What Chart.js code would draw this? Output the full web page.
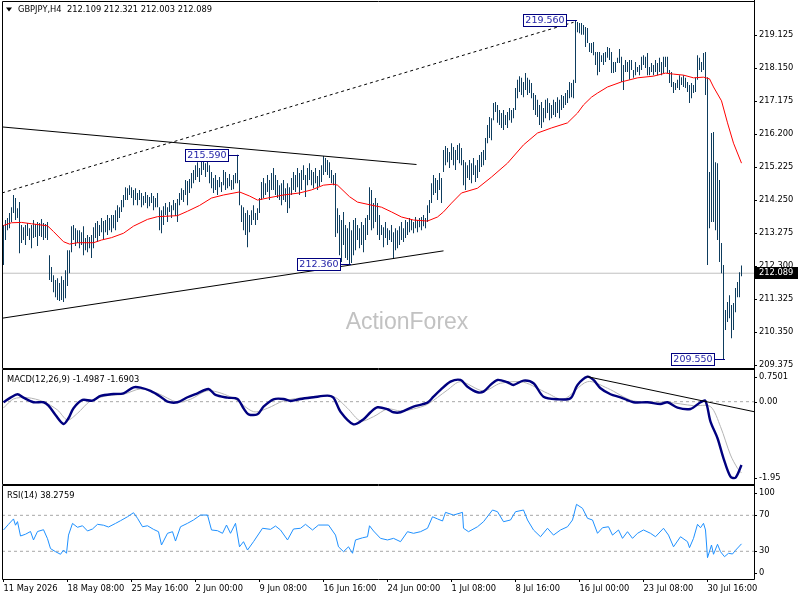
<!DOCTYPE html>
<html><head><meta charset="utf-8">
<script src="https://cdn.jsdelivr.net/npm/chart.js@4.4.1/dist/chart.umd.min.js"></script>
<style>
html,body{margin:0;padding:0;background:#fff;}
body{width:800px;height:600px;position:relative;overflow:hidden;}
canvas{position:absolute;left:0;}
</style></head><body>
<canvas id="cMain" width="800" height="370" style="top:0px"></canvas>
<canvas id="cMacd" width="800" height="118" style="top:368px"></canvas>
<canvas id="cRsi" width="800" height="116" style="top:484px"></canvas>
<script>
const symbolTitle = 'GBPJPY,H4';
const lastOHLC = [212.109, 212.321, 212.003, 212.089];

const highs = [
213.51,213.66,213.72,213.87,214.04,214.40,214.31,214.01,214.19,213.51,
213.45,213.51,213.57,213.42,213.51,213.66,213.54,213.60,213.57,213.69,
213.57,213.54,213.60,212.62,212.27,212.03,211.89,211.94,211.80,212.00,
211.89,212.18,212.77,212.77,213.48,213.51,213.42,213.36,213.36,213.30,
213.48,213.13,213.22,213.16,213.22,213.45,213.57,213.63,213.51,213.72,
213.63,213.66,213.81,213.72,213.81,213.81,213.95,214.10,214.04,214.25,
214.40,214.63,214.60,214.69,214.63,214.55,214.60,214.46,214.55,214.46,
214.37,214.49,214.40,214.34,214.46,214.37,214.31,214.46,214.04,213.95,
214.07,214.16,214.04,214.19,214.10,214.25,214.16,214.28,214.46,214.60,
214.55,214.84,214.81,214.87,215.05,215.14,215.28,215.37,215.20,215.43,
215.58,215.34,215.43,215.28,215.08,214.90,214.99,214.84,214.93,214.78,
215.14,215.08,214.90,215.02,214.84,214.99,215.05,215.59,214.84,214.10,
214.04,213.87,213.95,213.81,213.95,214.10,213.87,214.01,214.31,214.78,
214.90,214.75,214.99,214.84,215.05,215.20,214.99,214.84,214.69,214.75,
214.84,214.60,214.75,214.63,214.90,215.08,214.99,215.20,215.05,215.14,
215.28,214.99,215.20,215.34,215.14,215.08,215.20,214.96,215.14,215.28,
215.55,215.49,215.43,215.37,215.14,214.99,215.05,214.01,213.81,213.66,
213.90,213.51,213.42,213.60,213.36,213.66,213.72,213.51,213.42,213.60,
213.51,213.72,213.81,214.63,214.55,214.16,214.31,214.16,213.81,213.51,
213.45,213.60,213.42,213.36,213.51,213.30,213.42,213.36,213.48,213.60,
213.42,213.66,213.60,213.72,213.69,213.60,213.75,213.66,213.72,213.75,
213.81,213.72,214.10,214.25,214.75,214.99,214.90,214.84,215.05,214.90,
215.73,215.85,215.79,215.67,215.93,215.82,215.73,215.88,215.93,215.79,
215.43,215.37,215.28,215.43,215.34,215.49,215.28,215.43,215.58,215.67,
215.73,216.08,216.47,216.70,216.67,217.12,217.15,217.06,216.91,216.82,
216.91,216.76,216.85,216.97,216.91,216.97,217.56,217.80,217.91,217.86,
217.74,218.00,217.86,217.80,217.71,217.41,217.35,217.21,217.06,217.15,
216.97,217.21,217.26,217.12,217.06,217.21,217.15,217.29,217.21,217.35,
217.32,217.41,217.50,217.74,217.71,217.80,219.56,219.51,219.48,219.48,
219.42,219.36,219.33,218.89,218.89,218.92,218.62,218.62,218.62,218.53,
218.59,218.62,218.77,218.74,218.62,218.33,218.33,218.45,218.71,218.48,
218.24,218.39,218.33,218.39,218.39,218.09,218.33,218.18,218.24,218.48,
218.53,218.48,218.59,218.18,218.30,218.24,218.39,218.30,218.45,218.33,
218.48,218.48,218.48,218.09,218.03,217.74,217.71,217.80,217.94,217.88,
217.94,217.86,217.74,217.65,217.71,217.65,217.86,218.53,218.45,218.33,
218.59,218.62,217.88,215.08,216.23,216.26,215.37,215.34,214.84,212.98,
212.33,211.00,211.24,211.44,211.15,211.21,211.65,211.83,212.12,212.321];

const lows = [
212.33,213.07,213.36,213.42,213.60,213.87,213.66,213.72,212.68,212.98,
213.07,212.92,213.19,213.07,212.83,213.13,213.16,212.89,213.19,213.16,
213.07,213.13,213.07,211.89,211.83,211.53,211.38,211.30,211.27,211.30,
211.24,211.35,211.71,212.09,212.71,213.07,212.89,212.98,212.83,212.92,
212.62,212.77,212.71,212.83,212.54,212.83,213.13,213.01,213.19,213.30,
213.07,213.30,213.22,213.36,213.30,213.42,213.36,213.60,213.72,213.90,
214.04,214.25,214.25,214.40,214.31,214.10,214.25,214.10,214.25,214.04,
214.10,214.16,214.01,214.07,214.16,213.95,214.04,214.04,213.36,213.27,
213.51,213.81,213.60,213.90,213.72,213.95,213.78,213.60,214.10,214.25,
214.19,214.40,214.10,214.46,214.60,214.75,214.84,214.93,214.78,214.99,
215.14,214.93,215.08,214.75,214.60,214.46,214.55,214.40,214.63,214.49,
214.69,214.55,214.60,214.66,214.55,214.57,214.75,214.75,214.10,213.60,
213.36,213.22,212.86,213.30,213.51,213.66,213.51,213.66,213.87,214.25,
214.31,214.40,214.49,214.25,214.55,214.55,214.40,214.31,214.25,214.10,
214.25,214.19,213.87,214.01,214.40,214.55,214.49,214.63,214.40,214.55,
214.84,214.34,214.69,214.84,214.69,214.60,214.75,214.55,214.66,214.78,
214.99,215.08,214.99,214.90,214.75,214.69,213.16,213.27,212.62,212.42,
212.92,212.54,212.48,212.36,212.39,212.62,212.77,213.07,212.83,212.92,
212.71,213.07,213.22,213.66,213.36,213.42,213.60,213.22,213.07,213.22,
212.86,213.13,212.92,213.07,213.01,212.51,212.77,212.83,212.92,213.07,
213.01,213.13,213.22,213.30,213.36,213.27,213.42,213.30,213.45,213.36,
213.48,213.42,213.60,213.87,214.16,214.40,214.46,214.25,214.55,214.16,
215.08,215.28,215.37,215.20,215.43,215.28,215.14,215.43,215.34,215.28,
214.69,214.55,214.90,214.84,214.75,214.99,214.78,214.90,215.08,215.23,
215.28,215.43,215.93,216.08,216.02,216.61,216.85,216.53,216.47,216.38,
216.32,216.47,216.38,216.61,216.53,216.67,216.91,217.26,217.44,217.35,
217.29,217.50,217.35,217.41,217.26,216.91,216.76,216.70,216.47,216.38,
216.55,216.67,216.82,216.61,216.67,216.76,216.70,216.82,216.67,216.91,
216.97,217.06,217.12,217.26,217.29,217.26,217.71,219.21,219.18,219.13,
219.13,218.77,218.89,218.62,218.59,218.53,218.24,217.94,218.03,218.33,
218.24,218.33,218.45,218.39,218.00,218.00,218.03,218.30,218.30,217.74,
217.50,218.03,218.03,217.80,218.09,217.86,217.94,218.03,217.94,218.09,
218.24,218.15,217.94,217.94,218.03,217.94,218.03,217.94,218.03,217.94,
218.00,218.18,218.00,217.71,217.59,217.41,217.50,217.56,217.50,217.65,
217.59,217.56,217.44,217.12,217.26,217.41,217.44,217.80,218.09,218.03,
218.09,217.35,212.33,213.42,213.60,213.60,213.36,213.07,212.42,212.09,
209.55,210.41,210.65,210.76,210.17,210.41,210.94,211.38,211.38,212.003];

const maIdx = [0,4,9,14,22,25,30,33,37,45,49,54,60,65,72,77,87,92,98,104,110,118,123,127,132,140,148,154,160,165,167,173,177,184,189,194,199,205,212,217,220,224,229,237,244,252,260,267,274,282,287,290,294,297,302,309,317,325,331,335,340,345,350,353,355,359,362,365,369];
const maVal = [213.50,213.58,213.59,213.55,213.49,213.32,213.02,212.95,212.99,212.99,213.07,213.14,213.27,213.48,213.68,213.76,213.79,213.92,214.09,214.31,214.40,214.49,214.37,214.25,214.31,214.40,214.46,214.55,214.69,214.72,214.69,214.35,214.19,214.10,214.04,213.90,213.75,213.66,213.63,213.75,213.90,214.16,214.46,214.60,214.93,215.34,215.88,216.23,216.38,216.53,216.82,217.06,217.29,217.41,217.59,217.74,217.86,217.91,218.00,217.97,217.94,217.86,217.88,217.83,217.59,217.18,216.53,215.93,215.34];

const upperLineIdx = [-0.75, 206.5], upperLineVal = [216.41, 215.30];
const lowerLineIdx = [-0.75, 220], lowerLineVal = [210.76, 212.75];
const channelLineIdx = [-0.75, 285], channelLineVal = [214.46, 219.50];

const priceTicks = [209.375,210.350,211.325,212.300,213.275,214.250,215.225,216.200,217.175,218.150,219.125];
const markIdx = [117, 173, 286, 360];
const markVal = [215.590, 212.360, 219.560, 209.550];

const macdIdx = [0,3.5,7,10,15,20,22.5,26,30,32.5,35,39.5,44.5,48.5,55,60,65,68.5,73.5,78.5,82,87,92,97,102.5,106,112,117,120,122.5,127,130,135,140,143.5,148.5,155,162,165,168.5,175,180,183.5,187,192,195,198.5,205,212,215,218.5,223.5,228.5,232,237,240,243.5,247,252,255,260,265,270,277,283.5,287,292,295,298.5,303.5,308.5,315,322,328.5,332,337,343.5,348.5,351,353.5,357,360,363.5,366,369];
const macdVal = [-0.014,0.095,0.175,0.095,-0.014,-0.014,-0.095,-0.315,-0.528,-0.393,-0.156,0.040,0.024,0.135,0.182,0.199,0.341,0.332,0.254,0.118,0,-0.014,0.104,0.199,0.301,0.159,0.095,0.064,-0.156,-0.299,-0.299,-0.118,0.057,0.064,0.017,0.064,0.104,0.142,0.095,-0.237,-0.536,-0.417,-0.251,-0.133,-0.180,-0.251,-0.251,-0.118,-0.024,0.118,0.277,0.474,0.514,0.355,0.223,0.237,0.396,0.514,0.460,0.396,0.498,0.436,0.118,0.057,0.081,0.396,0.592,0.514,0.318,0.175,0.104,-0.014,-0.014,-0.055,-0.014,-0.142,-0.173,-0.014,0.017,-0.474,-0.867,-1.341,-1.777,-1.801,-1.4987];
const sigIdx = [0,5,12,20,27,32,37,43.5,52,60,68.5,77,87,93.5,102.5,115,125,132,140,152,165,172,178.5,185,192,198.5,205,212,222,228.5,240,248.5,260,272,280,292,302,315,332,345,353.5,358.5,363.5,367,369];
const sigVal = [-0.149,0.064,0.095,0,-0.197,-0.434,-0.275,0.017,0.142,0.175,0.301,0.199,-0.014,0.057,0.261,0.081,-0.237,-0.156,0.017,0.104,0.118,-0.156,-0.457,-0.355,-0.173,-0.220,-0.173,-0.062,0.277,0.474,0.254,0.436,0.460,0.199,0.057,0.474,0.318,0.017,-0.014,-0.095,-0.118,-0.592,-1.263,-1.578,-1.6903];
const macdTrendIdx = [292, 375.25], macdTrendVal = [0.592, -0.237];
const macdLevels = [0];
const macdTickVals = [0.7501, 0, -1.95];
const macdTickText = ['0.7501', '0.00', '-1.95'];

const rsiIdx = [0,2.5,5,6,7,8.5,11,13.5,15,17,20,22,23.5,26,28.5,30,31.5,32.5,34.5,37,39.5,42,44.5,47,50,52.5,56,58.5,62,65,67,69.5,72,75,77.5,79,82,84.5,86,88.5,92,95,98.5,102,104,107,109.5,111.5,113.5,116,118,120,122,125,129.5,133.5,136,138.5,142,145,148.5,151,154.5,157.5,162.5,166,167.5,170,172.5,174.5,176,179.5,182,183,185,188.5,192,195,198.5,202,205,208.5,212,214.5,217,219.5,221,225,229.5,230,232.5,237,240,244.5,247,250,253.5,256,260,262,265,268.5,272,275,278.5,282,284.5,286.5,289.5,292,294.5,297,299.5,302.5,304.5,307.5,309.5,312,314.5,317,320,323.5,326,330,332.5,335,338.5,342,343,345,347,348.5,350,351,352,354,355,357,358.5,360.5,362.5,364.5,366,369];
const rsiVal = [53.7,60,66,59,63,47,49,52,42.6,52,54,44,33,29.6,26.7,31.4,27.8,48,61,56.7,58.4,52.6,54.8,60,59,57,61,64,68.4,72.9,66.7,57.3,58.4,54.4,51.8,37,50,51.8,41.4,57.3,61.1,64.8,70.3,70.3,53.7,52.9,50,59.2,50,61.1,35,40.7,31.4,40.7,55.6,54.4,58.1,53.7,42.6,54.8,55.6,60,53.7,59.2,59.2,48,35,29.6,35,27.8,42.6,45,46.2,58.4,52.6,44.4,42.6,44.4,40.7,51.8,50,51.8,55.6,68.4,66,63.7,73.3,70.3,73.3,55.6,51.8,57.3,62.9,75.9,74,62.9,64.8,74,75.9,64.8,53.7,46.2,55.6,48,53.7,57.3,64.8,82.2,77.8,66.7,64.8,50,56.2,57.3,48,53.7,44.4,51.8,44.4,50,53.7,50,46.2,55.6,48,35,46.2,40.7,34,44.4,60,56.2,61.1,53.7,22.9,37,26.7,37.8,29.6,24,27.8,27,31.1,38.2759];
const rsiLevels = [70, 30];
const rsiTickVals = [100, 70, 30, 0];
const rsiTickText = ['100', '70', '30', '0'];

const timeTickIdx = [0,32,64,96,128,160,192,224,256,288,320,352];
const timeTickText = ['11 May 2026','18 May 08:00','25 May 16:00','2 Jun 00:00','9 Jun 08:00','16 Jun 16:00','24 Jun 00:00','1 Jul 08:00','8 Jul 16:00','16 Jul 00:00','23 Jul 08:00','30 Jul 16:00'];

// ---------- styling ----------
const FONT = "'DejaVu Sans', sans-serif";
const AX_SIZE = 8.3;
const X_MIN = -0.75, X_MAX = 375.25;
Chart.defaults.font.family = FONT;
Chart.defaults.animation = false;

const pts = (xs, ys) => xs.map((x, i) => ({x, y: ys[i]}));
const hLine = v => [{x: X_MIN, y: v}, {x: X_MAX, y: v}];

function frame(extendBottom) {
  return { id: 'frame', afterDraw(chart) {
    const {ctx, chartArea: a} = chart;
    ctx.save();
    ctx.strokeStyle = '#000'; ctx.lineWidth = 1;
    ctx.beginPath();
    ctx.rect(a.left + 0.5, a.top - 0.5, a.right - a.left, a.bottom - a.top + 1);
    ctx.moveTo(a.right + 0.5, 0);
    ctx.lineTo(a.right + 0.5, extendBottom ? chart.height : a.bottom);
    ctx.stroke();
    ctx.restore();
  }};
}

function sideLabels(vals, texts) {
  return { id: 'sideLabels', afterDraw(chart) {
    const {ctx, chartArea: a} = chart; const ys = chart.scales.y;
    ctx.save();
    ctx.font = AX_SIZE + "px " + FONT;
    ctx.fillStyle = '#000'; ctx.strokeStyle = '#000'; ctx.lineWidth = 1;
    ctx.textBaseline = 'middle'; ctx.textAlign = 'left';
    vals.forEach((v, i) => {
      const y = ys.getPixelForValue(v);
      const ty = Math.min(Math.max(y, a.top + 7), a.bottom - 6);
      ctx.beginPath(); ctx.moveTo(a.right, Math.round(ty) + 0.5); ctx.lineTo(a.right + 3, Math.round(ty) + 0.5); ctx.stroke();
      ctx.fillText(texts[i], a.right + 5, ty);
    });
    ctx.restore();
  }};
}

function panelTitle(text) {
  return { id: 'panelTitle', afterDraw(chart) {
    const {ctx, chartArea: a} = chart;
    ctx.save();
    ctx.font = AX_SIZE + "px " + FONT; ctx.fillStyle = '#000';
    ctx.textBaseline = 'middle'; ctx.textAlign = 'left';
    ctx.fillText(text, a.left + 5, a.top + 10);
    ctx.restore();
  }};
}

const mainDecor = {
  id: 'mainDecor',
  beforeDatasetsDraw(chart) {
    const ctx = chart.ctx;
    ctx.save();
    ctx.font = "23px 'Liberation Sans', Arial, sans-serif";
    ctx.fillStyle = '#c2c2c2'; ctx.textAlign = 'center'; ctx.textBaseline = 'alphabetic';
    ctx.fillText('ActionForex', 407, 329);
    ctx.restore();
  },
  afterDraw(chart) {
    const {ctx, chartArea: a} = chart;
    const xs = chart.scales.x, ys = chart.scales.y;
    ctx.save();
    ctx.fillStyle = '#000';
    ctx.beginPath(); ctx.moveTo(6, 7.5); ctx.lineTo(12, 7.5); ctx.lineTo(9, 11.5); ctx.closePath(); ctx.fill();
    ctx.font = AX_SIZE + "px " + FONT; ctx.textBaseline = 'middle'; ctx.textAlign = 'left';
    ctx.fillText(symbolTitle + '  ' + lastOHLC.map(v => v.toFixed(3)).join(' '), 18, 10);
    ctx.font = "9.5px " + FONT;
    markIdx.forEach((ix, k) => {
      const px = Math.round(xs.getPixelForValue(ix));
      const py = Math.round(ys.getPixelForValue(markVal[k]));
      const txt = markVal[k].toFixed(3);
      const w = Math.round(ctx.measureText(txt).width) + 5, h = 13;
      const right = px - 9;
      ctx.strokeStyle = '#00007f'; ctx.lineWidth = 1;
      ctx.beginPath(); ctx.moveTo(right, py + 0.5); ctx.lineTo(px + 1, py + 0.5); ctx.stroke();
      ctx.fillStyle = '#fff'; ctx.fillRect(right - w, py - 6, w, h);
      ctx.strokeRect(right - w + 0.5, py - 6 + 0.5, w - 1, h - 1);
      ctx.fillStyle = '#2424a8'; ctx.textAlign = 'center'; ctx.textBaseline = 'middle';
      ctx.fillText(txt, right - w / 2, py + 1);
    });
    const ly = Math.round(ys.getPixelForValue(lastOHLC[3]));
    ctx.fillStyle = '#000'; ctx.fillRect(a.right + 1, ly - 6, 43, 12);
    ctx.fillStyle = '#fff'; ctx.font = AX_SIZE + "px " + FONT; ctx.textAlign = 'left';
    ctx.fillText(lastOHLC[3].toFixed(3), a.right + 5, ly);
    ctx.restore();
  }
};

const noInteract = { legend: {display: false}, tooltip: {enabled: false} };

new Chart(document.getElementById('cMain'), {
  type: 'bar',
  data: { datasets: [
    { type: 'line', data: pts(upperLineIdx, upperLineVal), borderColor: '#000', borderWidth: 1, pointRadius: 0, order: 0 },
    { type: 'line', data: pts(lowerLineIdx, lowerLineVal), borderColor: '#000', borderWidth: 1, pointRadius: 0, order: 0 },
    { type: 'line', data: pts(channelLineIdx, channelLineVal), borderColor: '#000', borderWidth: 1, borderDash: [3, 3], pointRadius: 0, order: 0 },
    { type: 'line', data: pts(maIdx, maVal), borderColor: '#ff0000', borderWidth: 1, pointRadius: 0, order: 1 },
    { type: 'bar', data: highs.map((h, i) => ({x: i, y: [lows[i], h]})), backgroundColor: '#0e3d5e', borderWidth: 0, barThickness: 1, inflateAmount: 0, grouped: false, order: 2 },
    { type: 'line', data: hLine(lastOHLC[3]), borderColor: '#c0c0c0', borderWidth: 1, pointRadius: 0, order: 3 }
  ]},
  options: {
    responsive: false, devicePixelRatio: 1, events: [],
    layout: { padding: {left: 2, right: 0, top: 2, bottom: 2} },
    plugins: noInteract,
    scales: {
      x: { type: 'linear', min: X_MIN, max: X_MAX, display: false, offset: false },
      y: { type: 'linear', position: 'right', min: 209.29, max: 220.10,
        afterBuildTicks: s => { s.ticks = priceTicks.map(v => ({value: v})); },
        afterFit: s => { s.width = 46; s.paddingTop = 0; s.paddingBottom = 0; },
        ticks: { callback: v => Number(v).toFixed(3), font: {size: AX_SIZE}, color: '#000', padding: 2, autoSkip: false },
        grid: { display: true, drawOnChartArea: false, drawTicks: true, tickLength: 3, color: '#000' },
        border: { display: false } }
    }
  },
  plugins: [mainDecor, frame(true)]
});

new Chart(document.getElementById('cMacd'), {
  type: 'line',
  data: { datasets: [
    { data: pts(macdTrendIdx, macdTrendVal), borderColor: '#000', borderWidth: 1, pointRadius: 0, order: 0 },
    { data: pts(macdIdx, macdVal), borderColor: '#00007f', borderWidth: 2.4, pointRadius: 0, tension: 0.3, order: 1 },
    { data: pts(sigIdx, sigVal), borderColor: '#b4b4b4', borderWidth: 1, pointRadius: 0, tension: 0.3, order: 2 },
    ...macdLevels.map(v => ({ data: hLine(v), borderColor: '#a8a8a8', borderWidth: 1, borderDash: [3, 3], pointRadius: 0, order: 3 }))
  ]},
  options: {
    responsive: false, devicePixelRatio: 1, events: [],
    layout: { padding: {left: 2, right: 46, top: 2, bottom: 2} },
    plugins: noInteract,
    scales: {
      x: { type: 'linear', min: X_MIN, max: X_MAX, display: false },
      y: { type: 'linear', min: -1.95, max: 0.7501, display: false }
    }
  },
  plugins: [frame(true), sideLabels(macdTickVals, macdTickText),
    panelTitle('MACD(12,26,9) ' + macdVal[macdVal.length - 1].toFixed(4) + ' ' + sigVal[sigVal.length - 1].toFixed(4))]
});

new Chart(document.getElementById('cRsi'), {
  type: 'line',
  data: { datasets: [
    { data: pts(rsiIdx, rsiVal), borderColor: '#1e90ff', borderWidth: 1, pointRadius: 0, order: 0 },
    ...rsiLevels.map(v => ({ data: hLine(v), borderColor: '#a8a8a8', borderWidth: 1, borderDash: [3, 3], pointRadius: 0, order: 1 }))
  ]},
  options: {
    responsive: false, devicePixelRatio: 1, events: [],
    layout: { padding: {left: 2, right: 46, top: 2, bottom: 0} },
    plugins: noInteract,
    scales: {
      x: { type: 'linear', min: X_MIN, max: X_MAX, display: true, offset: false,
        afterBuildTicks: s => { s.ticks = timeTickIdx.map(v => ({value: v})); },
        afterFit: s => { s.height = 21; s.paddingLeft = 0; s.paddingRight = 0; },
        ticks: { callback: (v, i) => timeTickText[i], align: 'start', maxRotation: 0, autoSkip: false, font: {size: AX_SIZE}, color: '#000', padding: 2 },
        grid: { display: true, drawOnChartArea: false, drawTicks: true, tickLength: 3, color: '#000' },
        border: { display: false } },
      y: { type: 'linear', min: -0.8, max: 102.6, display: false }
    }
  },
  plugins: [frame(false), sideLabels(rsiTickVals, rsiTickText),
    panelTitle('RSI(14) ' + rsiVal[rsiVal.length - 1].toFixed(4))]
});
</script>
</body></html>
